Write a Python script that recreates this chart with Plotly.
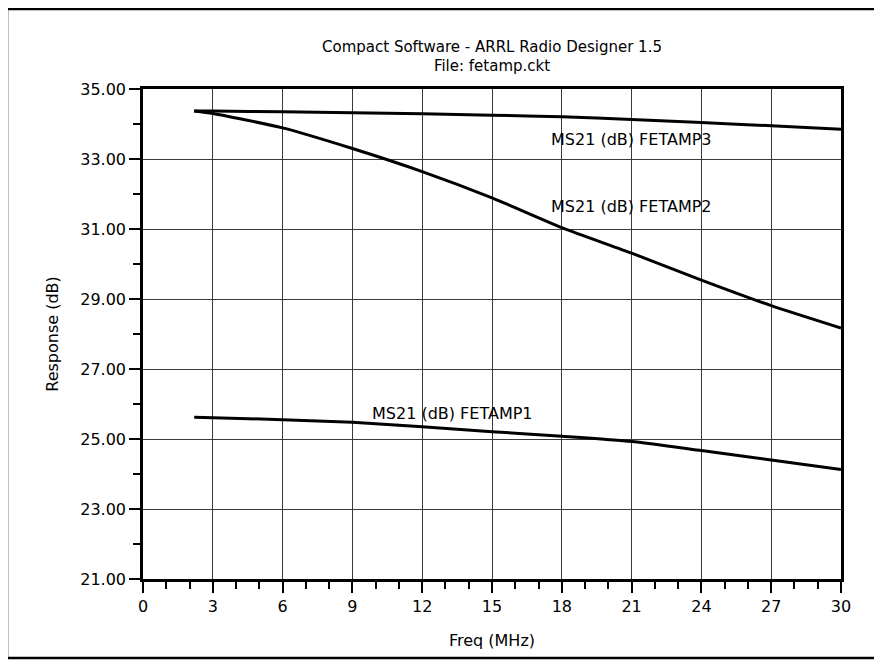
import plotly.graph_objects as go

freq_mhz = [2.2, 3, 6, 9, 12, 15, 18, 21, 24, 27, 30]
fetamp1 = [25.62, 25.61, 25.55, 25.48, 25.35, 25.21, 25.08, 24.93, 24.67, 24.40, 24.13]
fetamp2 = [34.37, 34.30, 33.89, 33.30, 32.64, 31.89, 31.04, 30.31, 29.54, 28.81, 28.17]
fetamp3 = [34.37, 34.37, 34.35, 34.32, 34.29, 34.25, 34.21, 34.13, 34.04, 33.95, 33.85]

series_names = ["MS21 (dB) FETAMP1", "MS21 (dB) FETAMP2", "MS21 (dB) FETAMP3"]
label_pos = [(9.75, 25.74), (17.45, 31.63), (17.45, 33.57)]

x_ticks = [0, 3, 6, 9, 12, 15, 18, 21, 24, 27, 30]
y_ticks = [21, 23, 25, 27, 29, 31, 33, 35]
y_tick_labels = ["21.00", "23.00", "25.00", "27.00", "29.00", "31.00", "33.00", "35.00"]

FONT = "DejaVu Sans"

fig = go.Figure()
for name, ys in zip(series_names, [fetamp1, fetamp2, fetamp3]):
    fig.add_trace(go.Scatter(
        x=freq_mhz, y=ys, mode="lines", name=name,
        line=dict(color="black", width=3, shape="spline", smoothing=0.6),
        showlegend=False,
    ))

for name, (lx, ly) in zip(series_names, label_pos):
    fig.add_annotation(x=lx, y=ly, text=name, showarrow=False,
                       xanchor="left", yanchor="middle",
                       font=dict(family=FONT, size=16, color="black"))

axis_common = dict(
    showline=True, linecolor="black", linewidth=2.5, mirror=True,
    showgrid=True, gridcolor="#3a3a3a", gridwidth=1,
    ticks="outside", ticklen=11, tickwidth=1.5, tickcolor="black",
    zeroline=False,
    tickfont=dict(family=FONT, size=16, color="black"),
)

fig.update_xaxes(
    range=[0, 30], tickvals=x_ticks,
    minor=dict(dtick=1, ticks="outside", ticklen=7, tickcolor="black", tickwidth=1.5, showgrid=False),
    title=dict(text="Freq (MHz)", font=dict(family=FONT, size=16, color="black"), standoff=20),
    **axis_common,
)
fig.update_yaxes(
    range=[21, 35], tickvals=y_ticks, ticktext=y_tick_labels,
    minor=dict(dtick=1, ticks="outside", ticklen=7, tickcolor="black", tickwidth=1.5, showgrid=False),
    title=dict(text="Response (dB)", font=dict(family=FONT, size=16, color="black"), standoff=18),
    **axis_common,
)

# page has an 8px body margin: figure offset so the plot area lands where the reference has it
fig.update_layout(
    width=866, height=653,
    margin=dict(l=135, r=33, t=81, b=82),
    paper_bgcolor="white", plot_bgcolor="white",
    title=dict(text="Compact Software - ARRL Radio Designer 1.5<br>File: fetamp.ckt",
               x=(492 - 8) / 866, xanchor="center", y=1 - (51.5 - 8) / 653, yanchor="middle",
               yref="container",
               font=dict(family=FONT, size=15, color="black")),
    shapes=[dict(type="rect", xref="paper", yref="paper",
                 x0=-136 / 698, x1=1 + 38 / 698, y0=-79 / 490, y1=1 + 80 / 490,
                 line=dict(color="black", width=2.5), fillcolor="rgba(0,0,0,0)", layer="below")],
)

fig.write_html("out.html")
